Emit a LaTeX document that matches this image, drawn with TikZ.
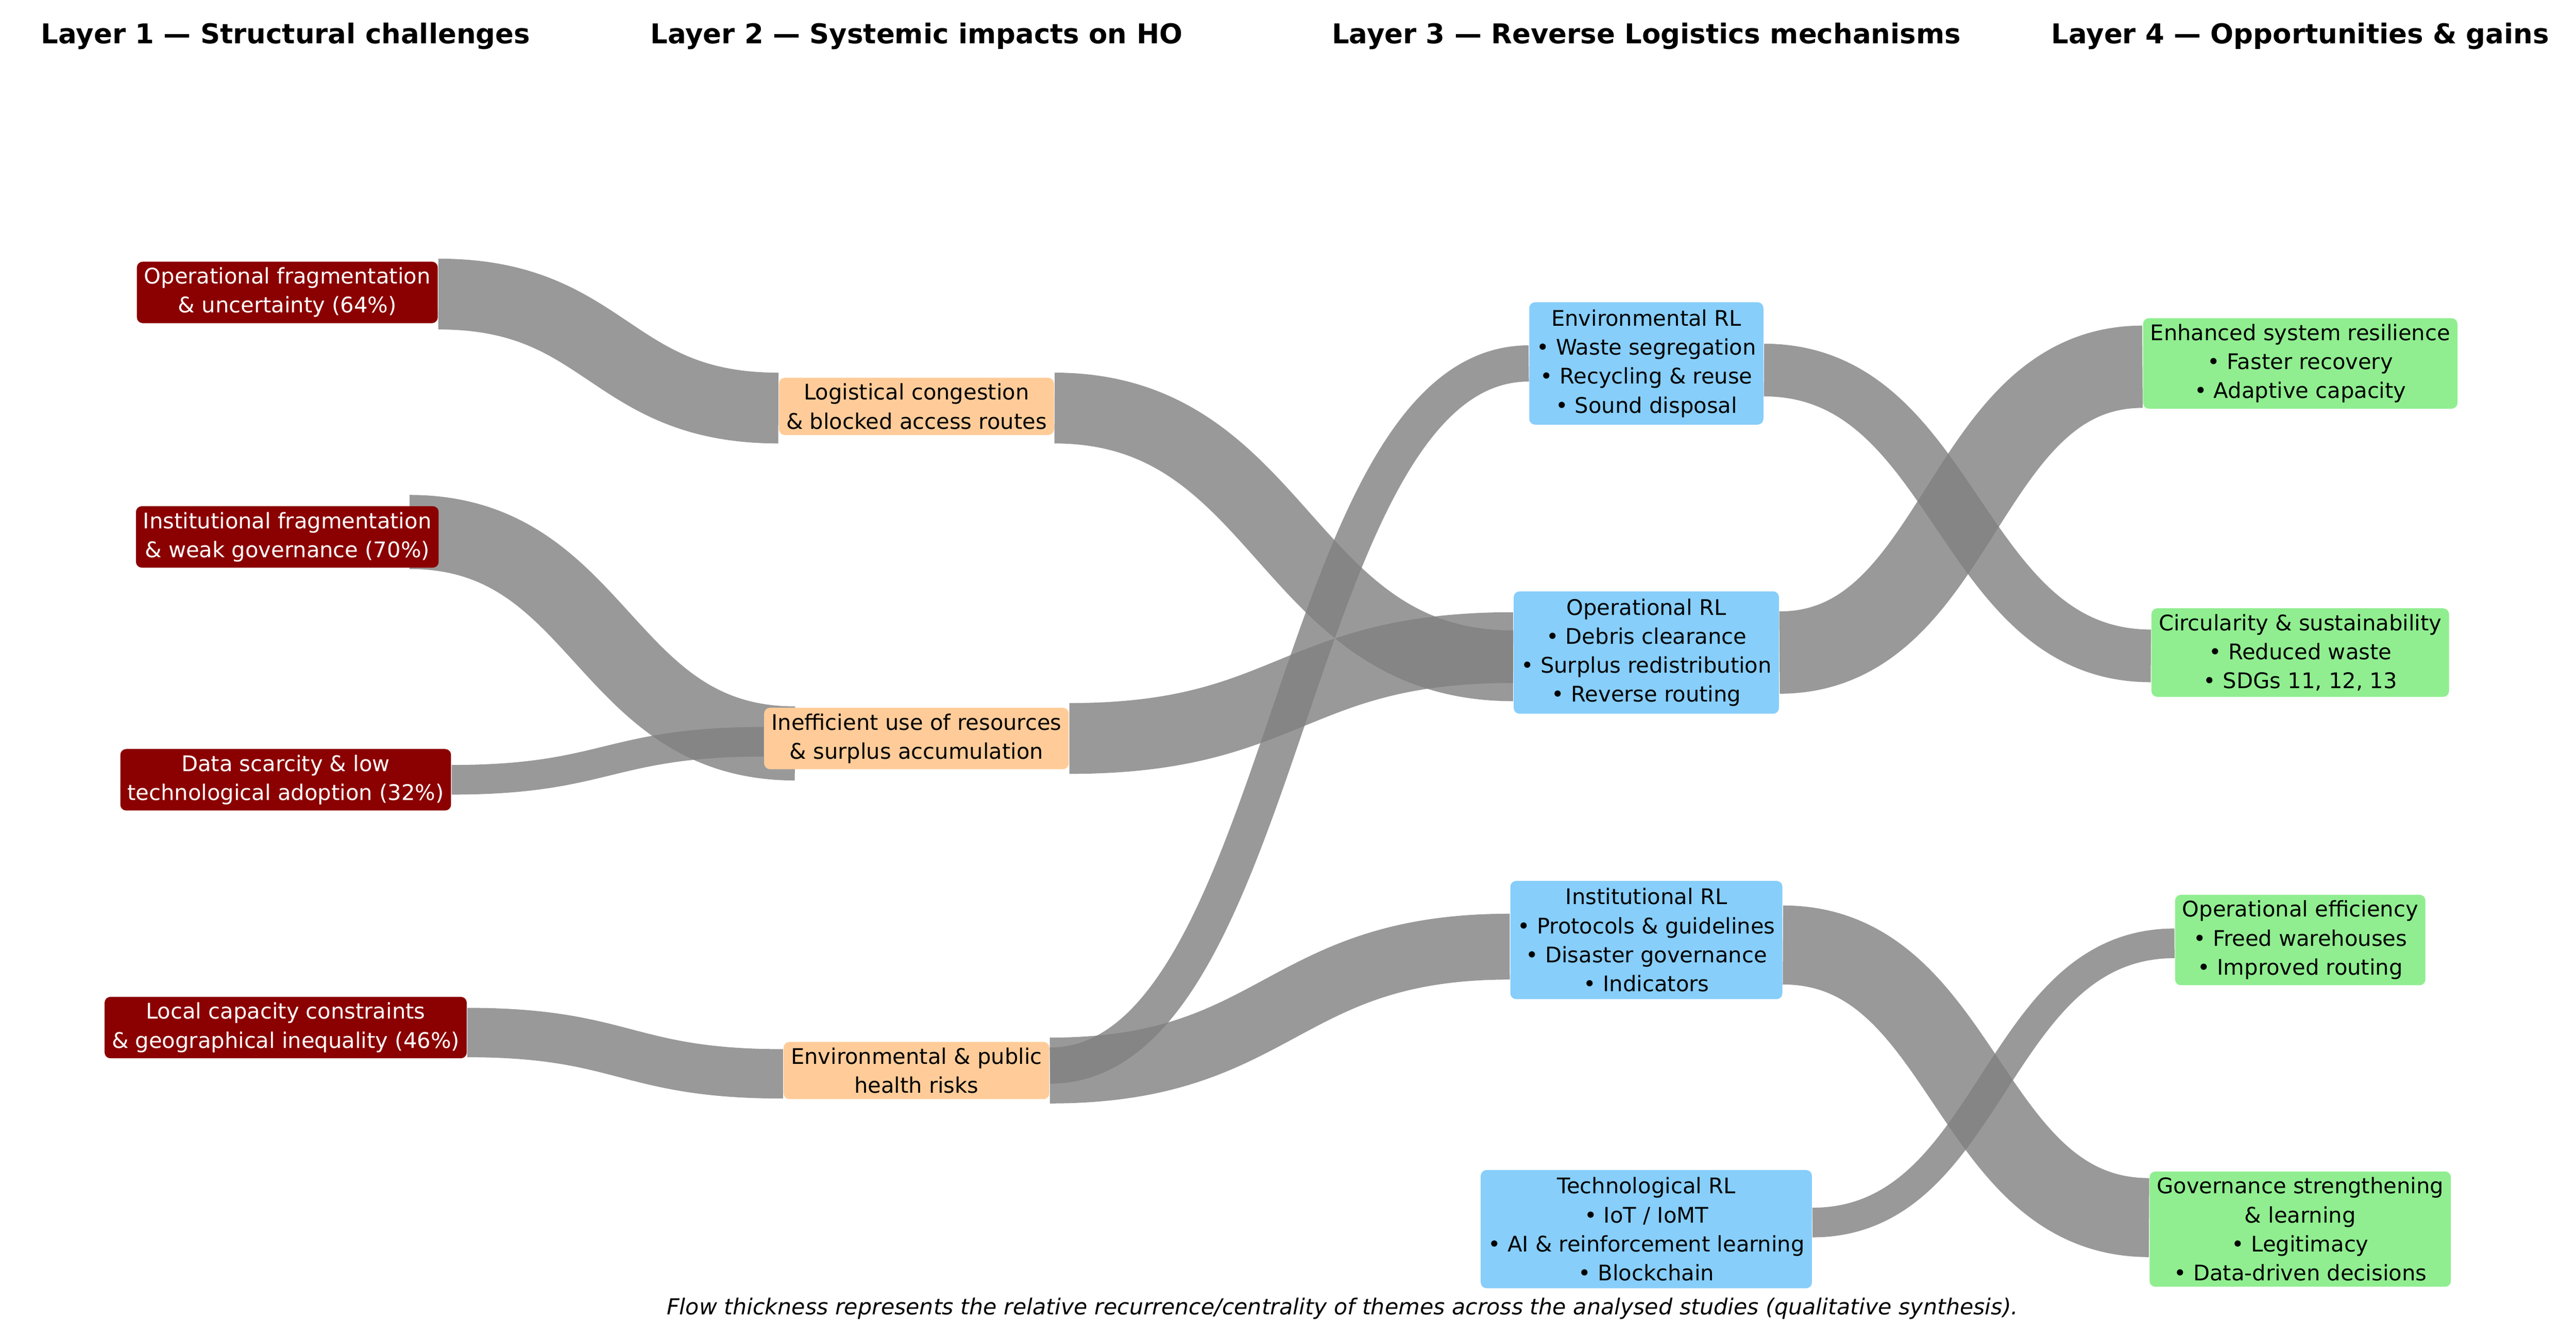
\documentclass[tikz,border=0pt]{standalone}
\usepackage{fontspec}
\setmainfont{DejaVu Sans}
\usetikzlibrary{calc,backgrounds}
\definecolor{cA}{HTML}{8B0000}
\definecolor{cB}{HTML}{FFCC99}
\definecolor{cC}{HTML}{87CEFA}
\definecolor{cD}{HTML}{90EE90}
\definecolor{cF}{HTML}{808080}
\newcommand{\flowto}[5]{%
  \draw[flow=#1] let \p1=($(#2)+(#3)$), \p2=($(#4)+(#5)$) in
   (\p1) .. controls ({0.5*\x1+0.5*\x2},\y1) and ({0.5*\x1+0.5*\x2},\y2) .. (\p2);}
\begin{document}
\begin{tikzpicture}[x=0.02cm,y=-0.02cm,
  box/.style={rounded corners=2pt,align=center,inner xsep=2.5pt,inner ysep=2pt,font=\fontsize{7.4}{10}\selectfont},
  l1/.style={box,fill=cA,text=white},
  l2/.style={box,fill=cB},
  l3/.style={box,fill=cC,inner ysep=2.5pt},
  l4/.style={box,fill=cD},
  ttl/.style={font=\fontsize{9.4}{12}\selectfont\bfseries},
  flow/.style={draw=cF,draw opacity=0.8,line width=#1*0.567pt}]
\useasboundingbox (0,0) rectangle (1560,808);
% nodes
\node[l1] (a1) at (174,177) {Operational fragmentation\\\& uncertainty (64\%)};
\node[l1] (a2) at (174,325) {Institutional fragmentation\\\& weak governance (70\%)};
\node[l1] (a3) at (173,472) {Data scarcity \& low\\technological adoption (32\%)};
\node[l1] (a4) at (173,622) {Local capacity constraints\\\& geographical inequality (46\%)};
\node[l2] (b1) at (555,246) {Logistical congestion\\\& blocked access routes};
\node[l2] (b2) at (555,447) {Inefficient use of resources\\\& surplus accumulation};
\node[l2] (b3) at (555,648) {Environmental \& public\\health risks};
\node[l3] (c1) at (997,220) {Environmental RL\\• Waste segregation\\• Recycling \& reuse\\• Sound disposal};
\node[l3] (c2) at (997,395) {Operational RL\\• Debris clearance\\• Surplus redistribution\\• Reverse routing};
\node[l3] (c3) at (997,569) {Institutional RL\\• Protocols \& guidelines\\• Disaster governance\\• Indicators};
\node[l3] (c4) at (997,744) {Technological RL\\• IoT / IoMT\\• AI \& reinforcement learning\\• Blockchain};
\node[l4] (d1) at (1393,220) {Enhanced system resilience\\• Faster recovery\\• Adaptive capacity};
\node[l4] (d2) at (1393,395) {Circularity \& sustainability\\• Reduced waste\\• SDGs 11, 12, 13};
\node[l4] (d3) at (1393,569) {Operational efficiency\\• Freed warehouses\\• Improved routing};
\node[l4] (d4) at (1393,744) {Governance strengthening\\\& learning\\• Legitimacy\\• Data-driven decisions};
% flows
\begin{scope}[on background layer]
\flowto{43}{a1.east}{0,1}{b1.west}{0,1}
\flowto{45}{a2.east}{-18,-3}{b2.west}{19,3}
\flowto{18}{a3.east}{0,0}{b2.west}{0,2}
\flowto{30}{a4.east}{0,3}{b3.west}{0,2}
\flowto{43}{b1.east}{0,1}{c2.west}{0,8}
\flowto{43}{b2.east}{0,0}{c2.west}{0,-3}
\flowto{22}{b3.east}{0,-3}{c1.west}{0,0}
\flowto{40}{b3.east}{0,0}{c3.west}{0,4}
\flowto{32}{c1.east}{0,4}{d2.west}{0,2}
\flowto{50}{c2.east}{0,0}{d1.west}{0,2}
\flowto{48}{c3.east}{0,3}{d4.west}{0,-7}
\flowto{18}{c4.east}{0,-4}{d3.west}{0,2}
\end{scope}
\node[ttl] (t1) at (173,22) {Layer 1 — Structural challenges};
\node[ttl] (t2) at (555,22) {Layer 2 — Systemic impacts on HO};
\node[ttl] (t3) at (997,22) {Layer 3 — Reverse Logistics mechanisms};
\node[ttl] (t4) at (1393,22) {Layer 4 — Opportunities \& gains};
\node[font=\fontsize{7.6}{10}\selectfont\itshape] (cap) at (813,792) {Flow thickness represents the relative recurrence/centrality of themes across the analysed studies (qualitative synthesis).};
\end{tikzpicture}
\end{document}
